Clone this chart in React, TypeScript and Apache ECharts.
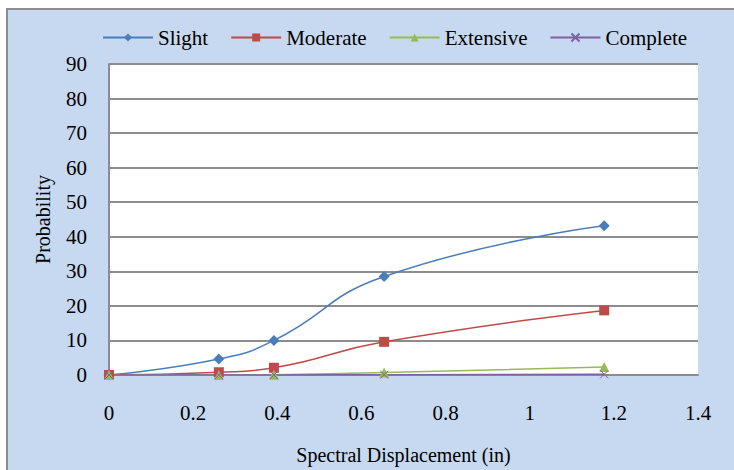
import React, { useEffect, useRef } from "react";
import * as echarts from "echarts";

const xValues = [0, 0.261, 0.392, 0.654, 1.177];
const slight = [0, 4.6, 10.0, 28.5, 43.2];
const moderate = [0, 0.8, 2.1, 9.6, 18.7];
const extensive = [0, 0.0, 0.1, 0.7, 2.3];
const complete = [0, 0, 0, 0.1, 0.2];

const FONT = "'Liberation Serif', 'Times New Roman', serif";
const FS = 21;

function pairs(ys: number[]) {
  return xValues.map((x, i) => [x, ys[i]]);
}

export default function App() {
  const ref = useRef<HTMLDivElement>(null);
  useEffect(() => {
    if (!ref.current) return;
    const chart = echarts.init(ref.current, null, { renderer: "svg" });
    const mk = (name: string, ys: number[], color: string, symbol: string, size: number, extra: any = {}) => ({
      name,
      type: "line",
      data: pairs(ys),
      smooth: 0.5,
      symbol,
      symbolSize: size,
      lineStyle: { color, width: 1.5 },
      itemStyle: { color, ...extra },
      z: 3,
    });
    chart.setOption({
      animation: false,
      textStyle: { fontFamily: FONT },
      graphic: [
        {
          type: "rect",
          shape: { x: 7, y: 9, width: 760, height: 500 },
          style: { fill: "#c6d9f0", stroke: "#8c8c8c", lineWidth: 2 },
          z: -10,
          silent: true,
        },
      ],
      legend: {
        left: 97,
        top: 22,
        itemWidth: 50,
        itemHeight: 10,
        itemGap: 22,
        textStyle: { fontFamily: FONT, fontSize: FS, color: "#000" },
        data: ["Slight", "Moderate", "Extensive", "Complete"],
      },
      grid: { left: 109, top: 64, right: 36, bottom: 91, backgroundColor: "#fff", show: true, borderWidth: 0 },
      xAxis: {
        type: "value",
        min: 0,
        max: 1.4,
        interval: 0.2,
        name: "Spectral Displacement (in)",
        nameLocation: "middle",
        nameGap: 70,
        nameTextStyle: { fontFamily: FONT, fontSize: FS - 1, color: "#000" },
        axisLine: { show: true, onZero: false, lineStyle: { color: "#8c8c8c", width: 2 } },
        axisTick: { show: false },
        splitLine: { show: false },
        axisLabel: { margin: 27, fontFamily: FONT, fontSize: FS, color: "#000" },
      },
      yAxis: {
        type: "value",
        min: 0,
        max: 90,
        interval: 10,
        name: "Probability",
        nameLocation: "middle",
        nameGap: 56,
        nameRotate: 90,
        nameTextStyle: { fontFamily: FONT, fontSize: FS - 1, color: "#000" },
        axisLine: { show: true, lineStyle: { color: "#8c8c8c", width: 2 } },
        axisTick: { show: false },
        splitLine: { show: true, lineStyle: { color: "#8c8c8c", width: 2 } },
        axisLabel: { margin: 22, fontFamily: FONT, fontSize: FS, color: "#000" },
      },
      series: [
        mk("Slight", slight, "#4a7ebb", "diamond", 11),
        mk("Moderate", moderate, "#be4b48", "rect", 10),
        mk("Extensive", extensive, "#98b954", "triangle", 10),
        mk("Complete", complete, "#7d60a0", "path://M0,0L10,10M10,0L0,10", 8, {
          borderColor: "#7d60a0",
          borderWidth: 1,
        }),
      ],
    });
    return () => chart.dispose();
  }, []);
  return (
    <div
      ref={ref}
      style={{ position: "fixed", left: 0, top: 0, width: 734, height: 470, background: "#fff" }}
    />
  );
}
